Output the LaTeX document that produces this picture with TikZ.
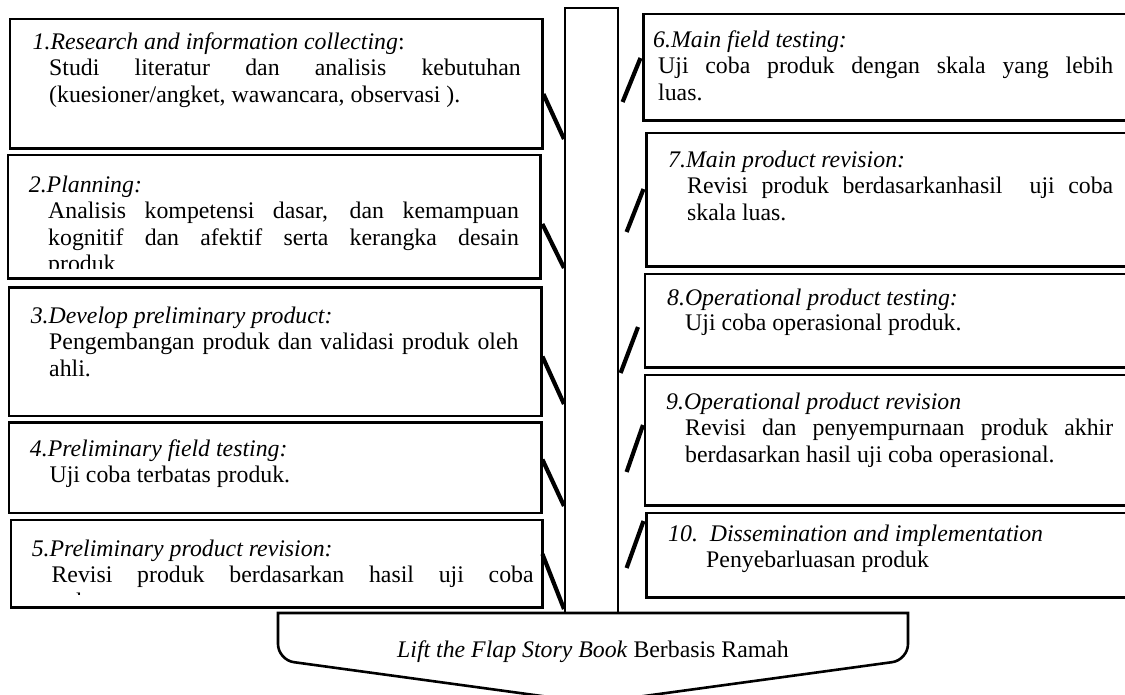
\documentclass[tikz,border=0pt]{standalone}
\usepackage{fontspec}
\setmainfont{Liberation Serif}
\usetikzlibrary{calc}
\hyphenpenalty=10000
\exhyphenpenalty=10000
\tolerance=9999
\tikzset{
  box/.style={inner sep=0pt, anchor=north west},
  boxline/.style={line width=2.2pt},
  trunkbox/.style={draw, line width=1.6pt, inner sep=0pt, anchor=north west},
  head/.style={anchor=base west, inner sep=0pt, font=\fontsize{23.8}{26.5}\selectfont\itshape},
  body/.style={anchor=base west, inner sep=0pt, align=justify, font=\fontsize{23.8}{26.5}\selectfont},
  slash/.style={line width=4.2pt},
}
\begin{document}
\begin{tikzpicture}[x=1pt,y=-1pt]
\useasboundingbox (0,0) rectangle (1125,694);
\begin{scope}
\clip (0,0) rectangle (1125,694);
% trunk
\node[trunkbox, minimum width=53pt, minimum height=606pt] (trunk) at (564,7) {};
% left boxes
\node[box, minimum width=532pt, minimum height=129pt] (b1) at (10,19) {};
\node[box, minimum width=532pt, minimum height=123pt] (b2) at (8,155) {};
\node[box, minimum width=532pt, minimum height=128pt] (b3) at (9,287.5) {};
\node[box, minimum width=532pt, minimum height=90pt] (b4) at (9,422.5) {};
\node[box, minimum width=531pt, minimum height=87pt] (b5) at (11,520) {};
% right boxes
\node[box, minimum width=500pt, minimum height=106pt] (b6) at (643.5,14) {};
\node[box, minimum width=500pt, minimum height=133pt] (b7) at (646.5,133) {};
\node[box, minimum width=500pt, minimum height=93pt] (b8) at (645,274) {};
\node[box, minimum width=500pt, minimum height=130pt] (b9) at (645,375) {};
\node[box, minimum width=500pt, minimum height=84pt] (b10) at (646.5,513) {};

% texts, clipped to the inner margins of their boxes
\begin{scope}\clip (b1.north west) rectangle (b1.south east);
\node[head] (h1) at (32.5,49) {1.Research and information collecting\upshape:};
\node[body, text width=471.5pt] (p1) at (49,75.5) {Studi literatur dan analisis kebutuhan\linebreak (kuesioner/angket, wawancara, observasi ).};
\end{scope}
\begin{scope}\clip (b2.north west) rectangle ($(b2.south east)+(0,-10)$);
\node[head] (h2) at (28.7,192) {2.Planning:};
\node[body, text width=470.7pt] (p2) at (48,218.5) {Analisis kompetensi dasar, dan kemampuan\linebreak kognitif dan afektif serta kerangka desain\linebreak produk};
\end{scope}
\begin{scope}\clip (b3.north west) rectangle (b3.south east);
\node[head] (h3) at (30.6,323) {3.Develop preliminary product:};
\node[body, text width=470pt, align=left] (p3) at (49,349.5) {Pengembangan produk dan validasi produk oleh\\ ahli.};
\end{scope}
\begin{scope}\clip (b4.north west) rectangle (b4.south east);
\node[head] (h4) at (29.7,456) {4.Preliminary field testing:};
\node[body, text width=470pt] (p4) at (49.4,482.5) {Uji coba terbatas produk.};
\end{scope}
\begin{scope}\clip (b5.north west) rectangle ($(b5.south east)+(0,-12.5)$);
\node[head] (h5) at (31.6,556) {5.Preliminary product revision:};
\node[body, text width=482pt] (p5) at (51.4,582.5) {Revisi produk berdasarkan hasil uji coba\linebreak terbatas.};
\end{scope}
\begin{scope}\clip (b6.north west) rectangle (1125,120);
\node[head] (h6) at (653,47) {6.Main field testing:};
\node[body, text width=455pt] (p6) at (658,73.5) {Uji coba produk dengan skala yang lebih\linebreak luas.};
\end{scope}
\begin{scope}\clip (b7.north west) rectangle (1125,266);
\node[head] (h7) at (668,167) {7.Main product revision:};
\node[body, text width=426pt] (p7) at (687,193.5) {Revisi produk berdasarkanhasil\ \ uji coba\linebreak skala luas.};
\end{scope}
\begin{scope}\clip (b8.north west) rectangle (1125,367);
\node[head] (h8) at (667,305) {8.Operational product testing:};
\node[body, text width=426pt] (p8) at (685,330.5) {Uji coba operasional produk.};
\end{scope}
\begin{scope}\clip (b9.north west) rectangle (1125,505);
\node[head] (h9) at (666,409) {9.Operational product revision};
\node[body, text width=428pt] (p9) at (685,435.5) {Revisi dan penyempurnaan produk akhir\linebreak berdasarkan hasil uji coba operasional.};
\end{scope}
\begin{scope}\clip (b10.north west) rectangle (1125,597);
\node[head] (h10) at (668,541) {10.\ \ Dissemination and implementation};
\node[body, text width=400pt] (p10) at (706,567.5) {Penyebarluasan produk};
\end{scope}

% box borders
\foreach \b in {b1,b2,b3,b4,b5}
  \draw[boxline] (\b.north west) rectangle (\b.south east);
\foreach \b in {b6,b7,b8,b9,b10}
  \draw[boxline] (\b.north west) rectangle (\b.south east);

% slashes between boxes and trunk
\draw[slash] ($(b1.north east)+(1,75)$) -- (trunk.west |- 0,139);
\draw[slash] ($(b2.north east)+(2,69)$) -- (trunk.west |- 0,268);
\draw[slash] ($(b3.north east)+(1,69)$) -- (trunk.west |- 0,404);
\draw[slash] ($(b4.north east)+(1,37)$) -- (trunk.west |- 0,506);
\draw[slash] ($(b5.north east)+(0,34)$) -- (trunk.west |- 0,609);
\draw[slash] ($(trunk.east |- 0,102)+(4,0)$) -- ($(b6.west |- 0,58)+(-3,0)$);
\draw[slash] ($(trunk.east |- 0,232)+(8,0)$) -- ($(b7.west |- 0,189)+(-3,0)$);
\draw[slash] ($(trunk.east |- 0,373)+(2,0)$) -- ($(b8.west |- 0,327)+(-7,0)$);
\draw[slash] ($(trunk.east |- 0,472)+(8,0)$) -- ($(b9.west |- 0,425)+(-2,0)$);
\draw[slash] ($(trunk.east |- 0,568)+(8,0)$) -- ($(b10.west |- 0,521)+(-3,0)$);

% base
\draw[line width=2.6pt, fill=white] (278,613) -- (908,613)
  [rounded corners=16pt] -- (908,660) -- (593,703) -- (278,660) [sharp corners] -- cycle;
\node[inner sep=0pt, font=\fontsize{23.8}{26.5}\selectfont] (base) at (593,652) {\textit{Lift the Flap Story Book} Berbasis Ramah};
\end{scope}
\end{tikzpicture}
\end{document}
